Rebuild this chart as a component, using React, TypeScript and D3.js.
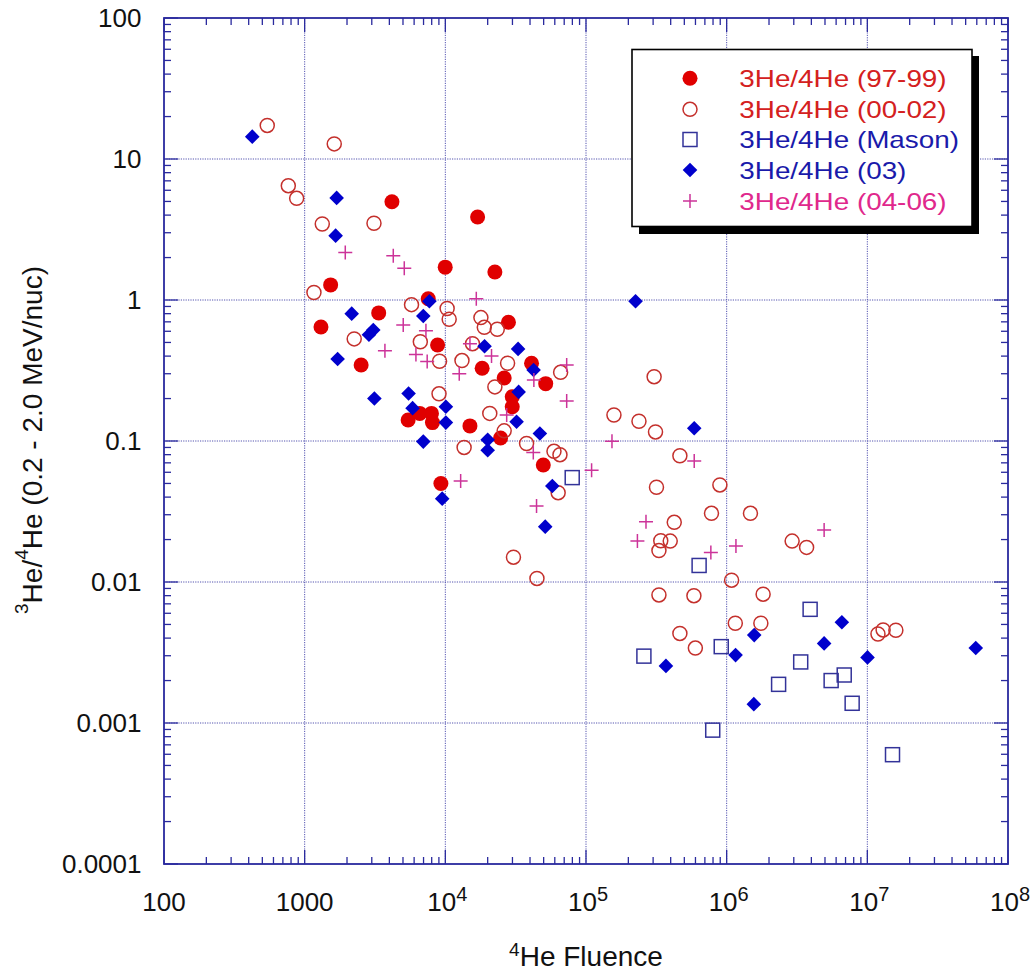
import React from "react";
import * as d3 from "d3";

// ---- data: [4He fluence, 3He/4He ratio] ----
const filled9799: [number, number][] = [
  [4172, 4.98], [16960, 3.88], [9980, 1.71], [22500, 1.58], [1530, 1.28],
  [7560, 1.02], [3360, 0.81], [1306, 0.644], [8810, 0.48], [2520, 0.346],
  [28100, 0.695], [18270, 0.328], [41000, 0.356], [26200, 0.28], [51700, 0.255],
  [29900, 0.206], [29900, 0.175], [5440, 0.141], [6580, 0.157], [7970, 0.157],
  [8100, 0.135], [14960, 0.128], [24700, 0.105], [49700, 0.0676], [9300, 0.05],
];

const open0002: [number, number][] = [
  [542, 17.3], [1623, 12.8], [765, 6.47], [877, 5.26], [1334, 3.46], [3110, 3.5],
  [1164, 1.13], [5750, 0.927], [10300, 0.87], [10650, 0.73], [17900, 0.75],
  [18920, 0.64], [23400, 0.62], [2250, 0.53], [6640, 0.506], [9100, 0.368],
  [13130, 0.372], [15600, 0.49], [27700, 0.356], [22500, 0.242], [66000, 0.307],
  [9020, 0.216], [20700, 0.157], [26200, 0.118], [13600, 0.09], [37800, 0.096],
  [59200, 0.0845], [65300, 0.08], [63400, 0.043], [30500, 0.015], [44800, 0.0106],
  [305000, 0.286], [158000, 0.153], [238000, 0.138], [312000, 0.116], [465000, 0.0786],
  [317000, 0.047], [895000, 0.0488], [424000, 0.0265], [780000, 0.0307], [1476000, 0.0307],
  [340000, 0.0196], [397000, 0.0195], [330000, 0.0167], [2920000, 0.0195], [3700000, 0.0176],
  [1084000, 0.0103], [330000, 0.0081], [585000, 0.008], [1816000, 0.0082], [1152000, 0.0051],
  [1750000, 0.0051], [11900000, 0.00428], [12950000, 0.00457], [15950000, 0.00455],
  [465000, 0.00432], [599000, 0.0034],
];

const mason: [number, number][] = [
  [79800, 0.055], [637000, 0.0131], [3920000, 0.0064], [258000, 0.00298], [915000, 0.00348],
  [3360000, 0.00271], [2340000, 0.00188], [5530000, 0.002], [6850000, 0.00219],
  [7800000, 0.00138], [796000, 0.00089], [15100000, 0.000596],
];

const diam03: [number, number][] = [
  [424, 14.4], [1688, 5.3], [1660, 2.86], [7700, 0.98], [2160, 0.8], [6970, 0.77],
  [2864, 0.567], [3075, 0.613], [1715, 0.382], [19000, 0.47], [32900, 0.45], [42400, 0.319],
  [33200, 0.223], [5480, 0.217], [3130, 0.2], [5850, 0.171], [10090, 0.175], [10090, 0.135],
  [32100, 0.137], [47000, 0.113], [6970, 0.099], [20000, 0.102], [20000, 0.086], [57600, 0.048],
  [9500, 0.039], [51300, 0.0247], [225000, 0.98], [588000, 0.123], [6590000, 0.00518],
  [1570000, 0.0042], [4930000, 0.00367], [59000000, 0.0034], [10030000, 0.00292],
  [370000, 0.00254], [1157000, 0.00303], [1560000, 0.00136],
];

const plus0406: [number, number][] = [
  [1944, 2.17], [4265, 2.06], [5106, 1.68], [16600, 1.02], [5020, 0.665], [7280, 0.605],
  [3720, 0.437], [6180, 0.41], [7430, 0.366], [14960, 0.49], [21300, 0.4], [12560, 0.3],
  [42600, 0.271], [72900, 0.346], [72900, 0.192], [27300, 0.153], [42200, 0.083],
  [109600, 0.062], [12850, 0.052], [44500, 0.0346], [153000, 0.0995], [588000, 0.072],
  [267000, 0.0268], [232000, 0.0195], [772000, 0.0162], [1164000, 0.018], [4930000, 0.0234],
];

const xTickValues = [100, 1000, 1e4, 1e5, 1e6, 1e7, 1e8];
const yTickValues = [100, 10, 1, 0.1, 0.01, 0.001, 0.0001];
const yTickLabels = ["100", "10", "1", "0.1", "0.01", "0.001", "0.0001"];
const legendLabels = [
  "3He/4He (97-99)",
  "3He/4He (00-02)",
  "3He/4He (Mason)",
  "3He/4He (03)",
  "3He/4He (04-06)",
];

const FONT = "'Liberation Sans', Arial, Helvetica, sans-serif";
const AXIS = "#2a2a9e";
const C_FILLED = "#e00000";
const C_OPEN = "#c4302c";
const C_SQUARE = "#333399";
const C_DIAM = "#0000cc";
const C_PLUS = "#cc3399";

type Kind = "filled" | "open" | "square" | "diamond" | "plus";

function Marker({ kind, cx, cy }: { kind: Kind; cx: number; cy: number }) {
  switch (kind) {
    case "filled":
      return <circle cx={cx} cy={cy} r={7.5} fill={C_FILLED} />;
    case "open":
      return <circle cx={cx} cy={cy} r={7} fill="none" stroke={C_OPEN} strokeWidth={1.5} />;
    case "square":
      return <rect x={cx - 7} y={cy - 7} width={14} height={14} fill="none" stroke={C_SQUARE} strokeWidth={1.5} />;
    case "diamond": {
      const s = 7.3;
      return <path d={`M${cx},${cy - s}L${cx + s},${cy}L${cx},${cy + s}L${cx - s},${cy}Z`} fill={C_DIAM} />;
    }
    case "plus":
      return (
        <path d={`M${cx - 7},${cy}H${cx + 7}M${cx},${cy - 7}V${cy + 7}`} stroke={C_PLUS} strokeWidth={1.5} fill="none" />
      );
  }
}

export default function App() {
  const L = 164, R = 1008, T = 18, B = 864;
  const x = d3.scaleLog().domain([100, 1e8]).range([L, R]);
  const y = d3.scaleLog().domain([1e-4, 100]).range([B, T]);

  const isMajor = (v: number) => Math.abs(Math.log10(v) - Math.round(Math.log10(v))) < 1e-9;
  const xTicks = x.ticks();
  const yTicks = y.ticks();
  const MAJ = 14, MIN = 7;

  const series: { kind: Kind; data: [number, number][] }[] = [
    { kind: "filled", data: filled9799 },
    { kind: "open", data: open0002 },
    { kind: "square", data: mason },
    { kind: "diamond", data: diam03 },
    { kind: "plus", data: plus0406 },
  ];
  const legendKinds: Kind[] = ["filled", "open", "square", "diamond", "plus"];
  const legendColors = ["#d42020", "#d42020", "#1a1aaa", "#1a1aaa", "#e0288c"];
  const legendRows = [78.3, 109.3, 139.5, 170, 201];

  return (
    <svg width={1031} height={972} style={{ position: "absolute", left: 0, top: 0, background: "#fff" }} fontFamily={FONT}>
      <rect x={0} y={0} width={1031} height={972} fill="#fff" />
      {/* grid */}
      <g stroke={AXIS} strokeWidth={1} strokeDasharray="1.2,1.2" opacity={0.8}>
        {xTickValues.slice(1, -1).map((v) => (
          <line key={"gx" + v} x1={x(v)} x2={x(v)} y1={T} y2={B} />
        ))}
        {yTickValues.slice(1, -1).map((v) => (
          <line key={"gy" + v} x1={L} x2={R} y1={y(v)} y2={y(v)} />
        ))}
      </g>

      {/* ticks */}
      <g stroke={AXIS} strokeWidth={1.3}>
        {xTicks.map((v, i) => {
          const len = isMajor(v) ? MAJ : MIN;
          const px = x(v);
          return (
            <g key={"xt" + i}>
              <line x1={px} x2={px} y1={B} y2={B - len} />
              <line x1={px} x2={px} y1={T} y2={T + len} />
            </g>
          );
        })}
        {yTicks.map((v, i) => {
          const len = isMajor(v) ? MAJ : MIN;
          const py = y(v);
          return (
            <g key={"yt" + i}>
              <line x1={L} x2={L + len} y1={py} y2={py} />
              <line x1={R} x2={R - len} y1={py} y2={py} />
            </g>
          );
        })}
      </g>

      {/* frame */}
      <rect x={L} y={T} width={R - L} height={B - T} fill="none" stroke={AXIS} strokeWidth={1.8} />

      {/* data */}
      {series.map((s) => (
        <g key={s.kind}>
          {s.data.map((d, i) => (
            <Marker key={i} kind={s.kind} cx={x(d[0])} cy={y(d[1])} />
          ))}
        </g>
      ))}

      {/* x tick labels */}
      <g fontSize={26} fill="#111" textAnchor="middle">
        {xTickValues.map((v) => {
          const e = Math.round(Math.log10(v));
          const px = x(v);
          if (e <= 3) {
            return (
              <text key={"xl" + v} x={px} y={910.7}>
                {String(v)}
              </text>
            );
          }
          return (
            <text key={"xl" + v} x={px + 2} y={910.7}>
              10
              <tspan fontSize={20} dy={-10}>
                {String(e)}
              </tspan>
            </text>
          );
        })}
      </g>

      {/* y tick labels */}
      <g fontSize={26} fill="#111" textAnchor="end">
        {yTickValues.map((v, i) => (
          <text key={"yl" + v} x={141.5} y={y(v)} dy="0.36em">
            {yTickLabels[i]}
          </text>
        ))}
      </g>

      {/* axis titles */}
      <text x={(L + R) / 2} y={966} fontSize={28} fill="#111" textAnchor="middle">
        <tspan fontSize={19} dy={-10}>4</tspan>
        <tspan dy={10}>He Fluence</tspan>
      </text>
      <text transform={`translate(41.7,440) rotate(-90)`} fontSize={28} fill="#111" textAnchor="middle">
        <tspan fontSize={19} dy={-14}>3</tspan>
        <tspan dy={14}>He/</tspan>
        <tspan fontSize={19} dy={-14}>4</tspan>
        <tspan dy={14}>He (0.2 - 2.0 MeV/nuc)</tspan>
      </text>

      {/* legend */}
      <g>
        <rect x={639} y={56} width={340} height={178} fill="#000" />
        <rect x={632} y={49.5} width={340} height={177} fill="#fff" stroke="#000" strokeWidth={1.6} />
        {legendKinds.map((k, i) => (
          <g key={"lg" + k}>
            <Marker kind={k} cx={690} cy={legendRows[i]} />
            <text
              transform={`translate(739.3,${legendRows[i] + 8.6}) scale(1.16,1)`}
              fontSize={24}
              fill={legendColors[i]}
            >
              {legendLabels[i]}
            </text>
          </g>
        ))}
      </g>
    </svg>
  );
}
